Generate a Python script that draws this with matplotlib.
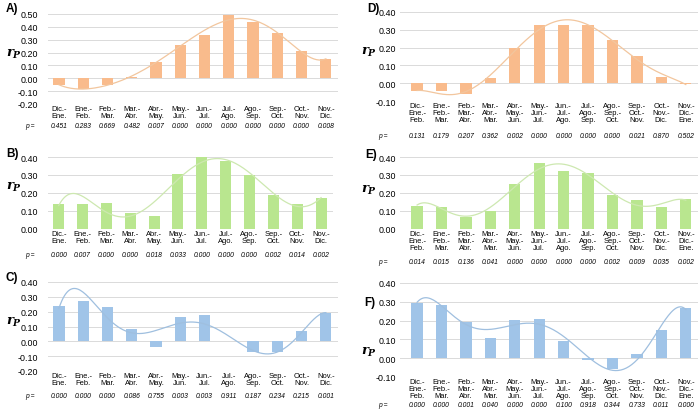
import numpy as np
import matplotlib
matplotlib.use('Agg')
from matplotlib import pyplot as plt
from matplotlib.transforms import blended_transform_factory

plt.rcParams['font.family'] = ['Liberation Sans', 'DejaVu Sans']
plt.rcParams['mathtext.fontset'] = 'custom'
plt.rcParams['mathtext.it'] = 'DejaVu Serif:italic:bold'
plt.rcParams['mathtext.rm'] = 'DejaVu Serif:bold'

# two-month windows (left) and three-month windows (right)
cats2 = ['Dic.-\nEne.', 'Ene.-\nFeb.', 'Feb.-\nMar.', 'Mar.-\nAbr.', 'Abr.-\nMay.', 'May.-\nJun.',
         'Jun.-\nJul.', 'Jul.-\nAgo.', 'Ago.-\nSep.', 'Sep.-\nOct.', 'Oct.-\nNov.', 'Nov.-\nDic.']
cats3 = ['Dic.-\nEne.-\nFeb.', 'Ene.-\nFeb.-\nMar.', 'Feb.-\nMar.-\nAbr.', 'Mar.-\nAbr.-\nMar.',
         'Abr.-\nMay.-\nJun.', 'May.-\nJun.-\nJul.', 'Jun.-\nJul.-\nAgo.', 'Jul.-\nAgo.-\nSep.',
         'Ago.-\nSep.-\nOct.', 'Sep.-\nOct.-\nNov.', 'Oct.-\nNov.-\nDic.', 'Nov.-\nDic.-\nEne.']

r_A = [-0.05, -0.085, -0.05, 0.01, 0.13, 0.26, 0.34, 0.49, 0.44, 0.35, 0.21, 0.15]
p_A = ['0.451', '0.283', '0.669', '0.482', '0.007', '0.000', '0.000', '0.000', '0.000', '0.000', '0.000', '0.008']
r_B = [0.14, 0.14, 0.145, 0.09, 0.07, 0.305, 0.40, 0.38, 0.30, 0.19, 0.14, 0.17]
p_B = ['0.000', '0.007', '0.000', '0.000', '0.018', '0.033', '0.000', '0.000', '0.000', '0.002', '0.014', '0.002']
r_C = [0.235, 0.275, 0.23, 0.08, -0.04, 0.165, 0.175, 0.002, -0.075, -0.07, 0.07, 0.19]
p_C = ['0.000', '0.000', '0.000', '0.086', '0.755', '0.003', '0.003', '0.911', '0.187', '0.234', '0.215', '0.001']
r_D = [-0.045, -0.045, -0.06, 0.03, 0.20, 0.325, 0.325, 0.325, 0.24, 0.155, 0.035, -0.003]
p_D = ['0.131', '0.179', '0.207', '0.362', '0.002', '0.000', '0.000', '0.000', '0.000', '0.021', '0.870', '0.502']
r_E = [0.13, 0.125, 0.065, 0.10, 0.25, 0.365, 0.32, 0.31, 0.19, 0.16, 0.12, 0.165]
p_E = ['0.014', '0.015', '0.136', '0.041', '0.000', '0.000', '0.000', '0.000', '0.002', '0.009', '0.035', '0.002']
r_F = [0.295, 0.285, 0.19, 0.11, 0.205, 0.21, 0.09, -0.01, -0.06, 0.02, 0.15, 0.265]
p_F = ['0.000', '0.000', '0.001', '0.040', '0.000', '0.000', '0.100', '0.918', '0.344', '0.733', '0.011', '0.000']

orange, orange_l = '#F9BB8C', '#F2C69E'
green, green_l = '#B9E68F', '#CDE8B0'
blue, blue_l = '#A0C4E8', '#9FBFDF'

W, H = 700, 414
fig = plt.figure(figsize=(7, 4.14), dpi=100)

# label, values, pvals, cats, ylim, color, line color, box(px: x0,x1,ytop,ybot),
# label pos, r_P pos, p row y, "p =" x, xlim left, tick pad
panels = [
    ('A)', r_A, p_A, cats2, (-0.2, 0.5), orange, orange_l, (48, 338, 15, 105), (6, 9), (6, 54), 127, 30, -0.45, 7),
    ('B)', r_B, p_B, cats2, (0.0, 0.4), green, green_l, (48, 333, 158, 230), (6, 154), (6, 187), 256, 30, -0.45, 7),
    ('C)', r_C, p_C, cats2, (-0.2, 0.4), blue, blue_l, (48, 338, 283, 372), (6, 278), (6, 322), 397, 30, -0.45, 7),
    ('D)', r_D, p_D, cats3, (-0.1, 0.4), orange, orange_l, (400, 698, 13, 102), (367, 9), (361, 52), 137, 383, -0.7, 3),
    ('E)', r_E, p_E, cats3, (0.0, 0.4), green, green_l, (400, 698, 158, 230), (365, 155), (361, 190), 262, 383, -0.7, 3),
    ('F)', r_F, p_F, cats3, (-0.1, 0.4), blue, blue_l, (400, 698, 284, 378), (364, 303), (361, 352), 406, 383, -0.7, 3),
]

for lab, vals, pv, cats, ylim, col, lcol, box, lpos, rpos, py, px, xl, pad in panels:
    x0, x1, yt, yb = box
    ax = fig.add_axes([x0 / W, 1 - yb / H, (x1 - x0) / W, (yb - yt) / H])
    x = np.arange(len(vals))
    ax.bar(x, vals, width=0.46, color=col, zorder=2)
    # polynomial trend line
    coef = np.polyfit(x, vals, 6)
    xs = np.linspace(0, len(vals) - 1, 200)
    ax.plot(xs, np.polyval(coef, xs), color=lcol, lw=0.9, zorder=3)
    ax.set_xlim(xl, len(vals) - 1 + 0.5)
    ax.set_ylim(*ylim)
    ticks = np.arange(ylim[0], ylim[1] + 0.001, 0.1)
    ax.set_yticks(ticks)
    ax.set_yticklabels(['%.2f' % t for t in ticks], fontsize=6.4)
    ax.yaxis.grid(True, color='#DADADA', lw=0.7, zorder=0)
    ax.set_xticks(x)
    ax.set_xticklabels(cats, fontsize=5.4, linespacing=0.95)
    ax.tick_params(length=0, pad=1)
    ax.tick_params(axis='y', pad=pad)
    for s in ax.spines.values():
        s.set_visible(False)
    tr = blended_transform_factory(ax.transData, fig.transFigure)
    for i, p in enumerate(pv):
        ax.text(i, 1 - py / H, p, transform=tr, fontsize=4.9, style='italic',
                ha='center', va='center')
    fig.text(px / W, 1 - py / H, 'p =', fontsize=4.9, style='italic', ha='center', va='center')
    fig.text(lpos[0] / W, 1 - lpos[1] / H, lab, fontsize=8.5, fontweight='bold', ha='left', va='center')
    fig.text(rpos[0] / W, 1 - rpos[1] / H, r'$r_P$', fontsize=9.5, ha='left', va='center')

plt.savefig('out.png', dpi=100)
